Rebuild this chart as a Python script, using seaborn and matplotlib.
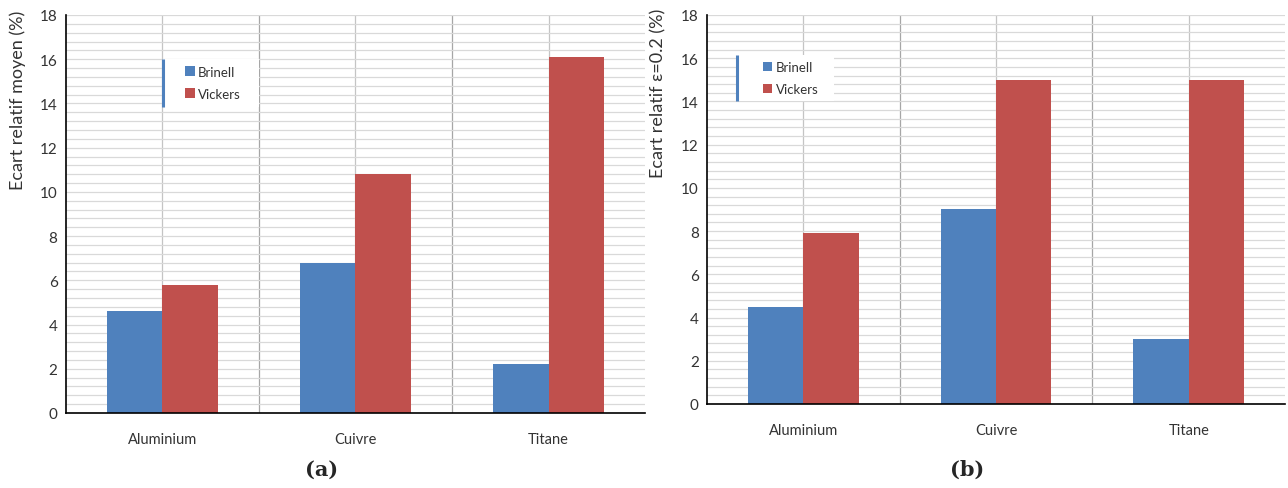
import pandas as pd
import numpy as np
import matplotlib.pyplot as plt
import seaborn as sns
from matplotlib.ticker import MultipleLocator
from matplotlib.patches import Rectangle

metaux = ["Aluminium", "Cuivre", "Titane"]
methodes = ["Brinell", "Vickers"]
brinell_a = [4.6, 6.8, 2.2]
vickers_a = [5.8, 10.8, 16.1]
brinell_b = [4.5, 9.0, 3.0]
vickers_b = [7.9, 15.0, 15.0]
ylabels = ["Ecart relatif moyen (%)", "Ecart relatif ε=0.2 (%)"]
panneaux = ["(a)", "(b)"]

couleurs = ["#4F81BD", "#C0504D"]

sns.set_style("white")
plt.rcParams["font.family"] = ["Lato", "DejaVu Sans"]

def make_df(b, v):
    return pd.DataFrame({
        "metal": metaux * 2,
        "methode": ["Brinell"] * 3 + ["Vickers"] * 3,
        "val": b + v,
    })

fig = plt.figure(figsize=(12.88, 4.89), dpi=100)
ax_a = fig.add_axes([0.0512, 0.1534, 0.4496, 0.8139])
ax_b = fig.add_axes([0.549, 0.1718, 0.4487, 0.7955])

# (axes, data, legend box x0, x1, y0, y1, legend anchor x, y, ylabel x, y)
configs = [
    (ax_a, make_df(brinell_a, vickers_a), (0.1675, 0.333, 0.769, 0.889), (0.205, 0.830), (-0.083, 0.789)),
    (ax_b, make_df(brinell_b, vickers_b), (0.052, 0.219, 0.778, 0.897), (0.096, 0.838), (-0.085, 0.800)),
]

for i, (ax, df, box, anc, lab) in enumerate(configs):
    sns.barplot(data=df, x="metal", y="val", hue="methode", palette=couleurs,
                width=0.575, saturation=1, errorbar=None, linewidth=0,
                ax=ax, zorder=3)
    ax.set_xlim(-0.5, 2.5)
    ax.set_ylim(0, 18)
    ax.yaxis.set_major_locator(MultipleLocator(2))
    ax.yaxis.set_minor_locator(MultipleLocator(0.4))
    ax.grid(axis="y", which="both", color="#d9d9d9", lw=0.9, zorder=0)
    # vertical grid lines: category centres and boundaries
    for x in [0, 1, 2]:
        ax.axvline(x, color="#c4c4c4", lw=0.9, zorder=0)
    for x in [0.5, 1.5]:
        ax.axvline(x, color="#a6a6a6", lw=0.9, zorder=0)
    ax.set_xticks([0, 1, 2])
    ax.set_xticklabels(metaux, fontsize=10.5, color="#333333")
    ax.set_xticks([-0.5, 0.5, 1.5, 2.5], minor=True)
    ax.tick_params(axis="x", which="major", length=0, pad=14)
    ax.tick_params(axis="x", which="minor", direction="inout", length=9, width=1.2)
    ax.tick_params(axis="y", which="major", direction="inout", length=8, width=1.2,
                   labelsize=11, labelcolor="#333333", pad=2)
    ax.tick_params(axis="y", which="minor", direction="in", length=4, width=1)
    ax.set_xlabel("")
    ax.set_ylabel(ylabels[i], fontsize=13, color="#333333")
    ax.yaxis.set_label_coords(lab[0], lab[1])
    ax.yaxis.label.set_va("center")
    for s in ["top", "right"]:
        ax.spines[s].set_visible(False)
    for s in ["left", "bottom"]:
        ax.spines[s].set_color("black")
        ax.spines[s].set_linewidth(1.2)
        ax.spines[s].set_zorder(5)

    # legend: white box with blue bar on the left
    x0, x1, y0, y1 = box
    ax.add_patch(Rectangle((x0, y0), x1 - x0, y1 - y0, transform=ax.transAxes,
                           facecolor="white", edgecolor="none", zorder=6))
    ax.plot([x0, x0], [y0, y1], transform=ax.transAxes, color=couleurs[0],
            lw=2.2, zorder=7, solid_capstyle="butt")
    lg = ax.legend(loc="center left", bbox_to_anchor=anc, frameon=False,
                   fontsize=9.5, handlelength=0.75, handleheight=0.75,
                   labelspacing=0.75, borderpad=0, handletextpad=0.25,
                   borderaxespad=0)
    lg.set_zorder(8)
    for t in lg.get_texts():
        t.set_color("#333333")

fig.text(0.25, 0.04, panneaux[0], fontsize=15, fontweight="bold",
         family="DejaVu Serif", ha="center", va="center")
fig.text(0.751, 0.04, panneaux[1], fontsize=15, fontweight="bold",
         family="DejaVu Serif", ha="center", va="center")

plt.savefig("out.png", dpi=100)
plt.close()
